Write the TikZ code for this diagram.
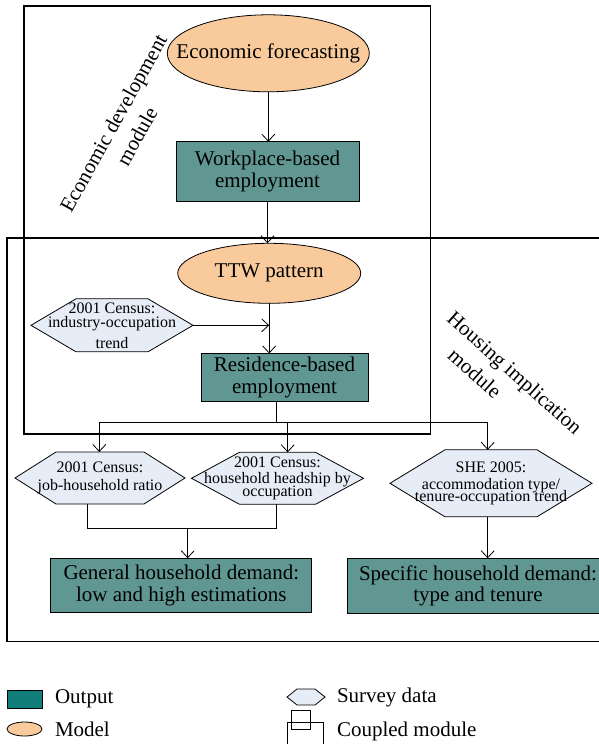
\documentclass[tikz,border=0pt]{standalone}
\usepackage{fontspec}
\setmainfont{Liberation Serif}
\usetikzlibrary{arrows.meta,backgrounds,calc,shapes.geometric}
\definecolor{outfill}{HTML}{609793}
\definecolor{legout}{HTML}{127E7A}
\definecolor{modfill}{HTML}{F9CB9C}
\definecolor{hexfill}{HTML}{E7EDF6}
\newcommand\hexshape[2]{%
  \draw[hexline] (#1.west) -- ([xshift=#2pt]#1.north west) -- ([xshift=-#2pt]#1.north east) -- (#1.east) -- ([xshift=-#2pt]#1.south east) -- ([xshift=#2pt]#1.south west) -- cycle;}
\tikzset{
  every node/.style={inner sep=0pt, outer sep=0pt},
  big/.style={font=\fontsize{21}{21.5}\selectfont, align=center},
  small/.style={font=\fontsize{16}{16}\selectfont, align=center},
  legtext/.style={font=\fontsize{21}{22}\selectfont, anchor=west},
  outbox/.style={draw, line width=0.8pt, fill=outfill, big},
  modelshape/.style={ellipse, draw, line width=0.8pt, fill=modfill},
  hexnode/.style={small},
  hexline/.style={draw, line width=0.8pt, fill=hexfill},
  modline/.style={draw, line width=1.1pt},
  link/.style={line width=0.8pt},
  arr/.style={link, -{Straight Barb[length=7pt,width=13pt,line width=0.8pt]}},
  modlabel/.style={font=\fontsize{21}{27}\selectfont},
}
\begin{document}
\begin{tikzpicture}[x=1pt,y=-1pt]
\clip (0,0) rectangle (599,744);

% main nodes
\node[modelshape, minimum width=202pt, minimum height=77pt] (ef) at (268.3,53.3) {};
\node[big] (eft) at (ef) {Economic forecasting};
\node[outbox, minimum width=183pt, minimum height=60pt] (wp) at (267.5,171.7) {Workplace-based\\employment};
\node[modelshape, minimum width=183pt, minimum height=60pt] (ttw) at (269.2,273.3) {};
\node[big] (ttwt) at (ttw) {TTW pattern};
\node[hexnode, minimum width=162pt, minimum height=53pt] (h0) at (112,325.3) {2001 Census:\\[-1.7pt]industry-occupation\\[4.7pt]trend};
\node[outbox, minimum width=167pt, minimum height=48pt] (res) at (284.5,377.5) {Residence-based\\employment};
\node[hexnode, minimum width=170pt, minimum height=52pt] (h1) at (100,478) {2001 Census:\\[2.6pt]job-household ratio};
\node[hexnode, minimum width=172pt, minimum height=52pt] (h2) at (277.5,478.3) {2001 Census:\\household headship by\\[-3.6pt]occupation};
\node[hexnode, minimum width=202pt, minimum height=67pt] (h3) at (491,483.3) {SHE 2005:\\[0.6pt]accommodation type/\\[-3.6pt]tenure-occupation trend};
\node[outbox, minimum width=261pt, minimum height=54.5pt] (gen) at (181.3,585.5) {General household demand:\\low and high estimations};
\node[outbox, minimum width=261pt, minimum height=55pt] (spec) at (478,585.8) {Specific household demand:\\type and tenure};

% module labels
\node[modlabel, align=center, rotate=61] (econlab) at (125,129.7) {Economic development\\module};
\node[modlabel, align=left, rotate=-41.6] (houslab) at (506,382.7) {Housing implication\\\hspace*{25pt}module};

% legend
\node[draw, line width=0.8pt, fill=legout, minimum width=35pt, minimum height=18pt] (lo) at (24.5,699) {};
\node[legtext] (lot) at (55,699) {Output};
\node[modelshape, minimum width=35pt, minimum height=14pt] (lm) at (24.5,729) {};
\node[legtext] (lmt) at (55,729) {Model};
\node[minimum width=38pt, minimum height=16pt] (ls) at (306,697) {};
\node[legtext] (lst) at (337,697) {Survey data};
\node[draw, line width=0.8pt, minimum width=19pt, minimum height=19pt] (lc1) at (300.5,720) {};
\node[draw, line width=0.8pt, minimum width=36pt, minimum height=22pt] (lc2) at (305,733) {};
\node[legtext] (lct) at (337,731) {Coupled module};

\begin{scope}[on background layer]
  \draw[modline] (24,6) rectangle (430.7,434);
  \draw[modline] (7,238) rectangle (610,641.7);
  \draw[line width=2pt] (7,238) -- (90,238);
  \hexshape{h0}{45}
  \hexshape{h1}{41}
  \hexshape{h2}{48}
  \hexshape{h3}{55}
  \hexshape{ls}{10}
\end{scope}

% connectors
\draw[arr] (ef.south) -- (ef.south |- wp.north);
\draw[arr] (wp.south) -- (wp.south |- ttw.north);
\draw[arr] (ttw.south) -- (ttw.south |- res.north);
\draw[arr] (h0.east) -- (h0.east -| ttw.south);
\coordinate (bus) at (276,422.3);
\coordinate (b1) at (99.3,422.3);
\coordinate (b2) at (287.7,422.3);
\coordinate (b3) at (487.7,422.3);
\draw[link] (bus |- res.south) -- (bus);
\draw[link] (b1) -- (b3);
\draw[arr] (b1) -- (b1 |- h1.north);
\draw[arr] (b2) -- (b2 |- h2.north);
\draw[arr] (b3) -- (b3 |- h3.north);
\draw[arr] (b3 |- h3.south) -- (b3 |- spec.north);
\coordinate (m1) at (87.3,528.3);
\coordinate (m2) at (276,528.3);
\coordinate (m3) at (187.7,528.3);
\draw[link] (m1 |- h1.south) -- (m1) -- (m2) -- (m2 |- h2.south);
\draw[arr] (m3) -- (m3 |- gen.north);
\end{tikzpicture}
\end{document}
